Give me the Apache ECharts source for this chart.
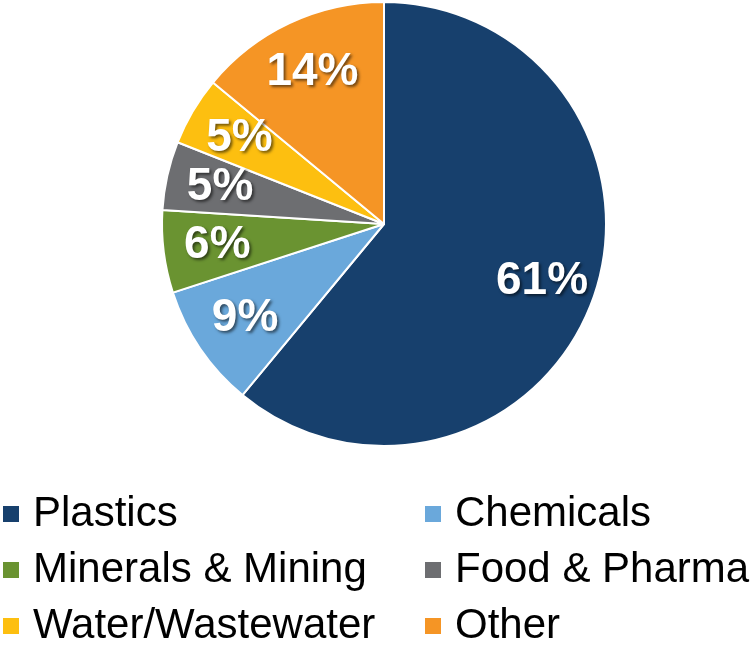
<!DOCTYPE html>
<html>
<head>
<meta charset="utf-8">
<style>
  html, body { margin: 0; padding: 0; background: #ffffff; }
  #chart { width: 753px; height: 645px; }
</style>
<script src="https://cdn.jsdelivr.net/npm/echarts@6/dist/echarts.min.js"></script>
</head>
<body>
<div id="chart"></div>
<script>
// Market share by end-use segment (percent)
var categories = ['Plastics', 'Chemicals', 'Minerals & Mining', 'Food & Pharma', 'Water/Wastewater', 'Other'];
var shares = [61, 9, 6, 5, 5, 14];
var colors = ['#17406d', '#6aa8db', '#6a9331', '#6d6e71', '#fdbf10', '#f59525'];

// Legend columns
var legendLeft = ['Plastics', 'Minerals & Mining', 'Water/Wastewater'];
var legendRight = ['Chemicals', 'Food & Pharma', 'Other'];

var pieData = categories.map(function (name, i) {
  return { name: name, value: shares[i], itemStyle: { color: colors[i] } };
});

var center = [384, 224];
var outerR = 222;

var legendText = {
  fontFamily: 'Liberation Sans, Arial, sans-serif',
  fontSize: 42,
  color: '#000000',
  lineHeight: 46,
  padding: [0, 0, 0, 8]
};

function makeLegend(names, left) {
  return {
    data: names,
    orient: 'vertical',
    left: left,
    top: 486,
    width: 400,
    height: 200,
    itemWidth: 18,
    itemHeight: 18,
    itemGap: 10,
    icon: 'rect',
    selectedMode: false,
    textStyle: legendText
  };
}

var chart = echarts.init(document.getElementById('chart'), null, { renderer: 'canvas' });
chart.setOption({
  animation: false,
  backgroundColor: '#ffffff',
  legend: [makeLegend(legendLeft, -4), makeLegend(legendRight, 418)],
  series: [
    {
      // the pie itself
      type: 'pie',
      center: center,
      radius: [0, outerR],
      startAngle: 90,
      clockwise: true,
      data: pieData,
      itemStyle: { borderColor: '#ffffff', borderWidth: 2 },
      label: { show: false },
      labelLine: { show: false },
      emphasis: { disabled: true }
    },
    {
      // transparent ring carrying the percentage labels further out
      type: 'pie',
      center: center,
      radius: [108, outerR],
      startAngle: 90,
      clockwise: true,
      silent: true,
      data: categories.map(function (name, i) {
        return { name: name, value: shares[i] };
      }),
      itemStyle: { color: 'rgba(0,0,0,0)', borderWidth: 0 },
      label: {
        show: true,
        position: 'inside',
        formatter: '{c}%',
        fontFamily: 'Liberation Sans, Arial, sans-serif',
        fontWeight: 'bold',
        fontSize: 46,
        color: '#ffffff',
        textShadowColor: 'rgba(0,0,0,0.55)',
        textShadowBlur: 3,
        textShadowOffsetX: 2,
        textShadowOffsetY: 2
      },
      labelLine: { show: false },
      emphasis: { disabled: true }
    }
  ]
});
</script>
</body>
</html>
